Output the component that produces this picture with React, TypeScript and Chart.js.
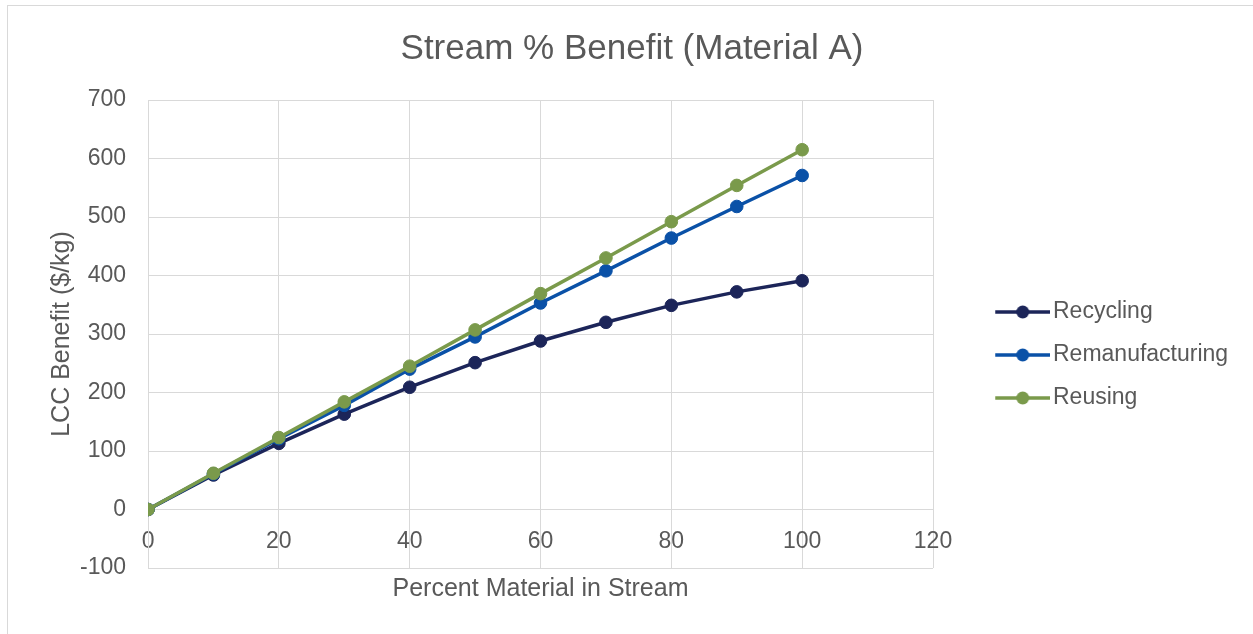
import React, { useEffect, useRef } from 'react';
import { Chart, registerables } from 'chart.js';

Chart.register(...registerables);

// ---- Data ----
const percentInStream = [0, 10, 20, 30, 40, 50, 60, 70, 80, 90, 100];
const recycling = [0, 59, 113, 163, 209, 251, 288, 320, 349, 372, 391];
const remanufacturing = [0, 61, 121, 178, 240, 295, 353, 408, 464, 518, 571];
const reusing = [0, 62, 123, 184, 245, 307, 369, 430, 492, 554, 615];
const seriesNames = ['Recycling', 'Remanufacturing', 'Reusing'];
const seriesColors = ['#1c2559', '#0a51a7', '#7a9a4b'];

const chartTitle = 'Stream % Benefit (Material A)';
const xTitle = 'Percent Material in Stream';
const yTitle = 'LCC Benefit ($/kg)';

const FONT = "'Liberation Sans', Arial, sans-serif";
const TEXT = '#595959';
const GRID = '#d9d9d9';

function legendIcon(color: string): HTMLCanvasElement {
  const c = document.createElement('canvas');
  c.width = 106;
  c.height = 16;
  const ctx = c.getContext('2d')!;
  ctx.strokeStyle = color;
  ctx.lineWidth = 3.5;
  ctx.beginPath();
  ctx.moveTo(51, 8);
  ctx.lineTo(106, 8);
  ctx.stroke();
  ctx.fillStyle = color;
  ctx.beginPath();
  ctx.arc(78.5, 8, 6.5, 0, Math.PI * 2);
  ctx.fill();
  return c;
}

export default function App() {
  const ref = useRef<HTMLCanvasElement | null>(null);

  useEffect(() => {
    if (!ref.current) return;
    Chart.defaults.font.family = FONT;
    Chart.defaults.color = TEXT;
    const icons = seriesColors.map(legendIcon);
    const all = [recycling, remanufacturing, reusing];
    const chart = new Chart(ref.current, {
      type: 'line',
      data: {
        datasets: all.map((vals, i) => ({
          label: seriesNames[i],
          data: percentInStream.map((x, j) => ({ x, y: vals[j] })),
          borderColor: seriesColors[i],
          backgroundColor: seriesColors[i],
          borderWidth: 3.5,
          pointRadius: 6.3,
          pointBorderWidth: 1,
          pointBackgroundColor: seriesColors[i],
          pointBorderColor: seriesColors[i],
          tension: 0,
          fill: false,
          order: 3 - i,
          xAxisID: 'x',
          yAxisID: 'y',
        })),
      },
      options: {
        responsive: false,
        animation: false,
        devicePixelRatio: 1,
        layout: { padding: { left: 22, right: 19, top: 0, bottom: 28 } },
        plugins: {
          title: {
            display: true,
            text: chartTitle,
            color: TEXT,
            font: { size: 35, weight: 'normal', family: FONT },
            padding: { top: 22, bottom: 30 },
          },
          legend: {
            position: 'right',
            title: {
              display: true,
              text: ' ',
              font: { size: 10, family: FONT },
              padding: { top: 86, bottom: 0 },
            },
            labels: {
              usePointStyle: true,
              pointStyleWidth: 88.5,
              padding: 20,
              color: TEXT,
              font: { size: 23, family: FONT },
              generateLabels: (ch: any) => {
                const items = Chart.defaults.plugins.legend.labels.generateLabels(ch);
                return items
                  .map((it: any) => ({ ...it, pointStyle: icons[it.datasetIndex], lineWidth: 0 }))
                  .sort((a: any, b: any) => a.datasetIndex - b.datasetIndex);
              },
            },
          },
          tooltip: { enabled: false },
        },
        scales: {
          x: {
            type: 'linear',
            position: { y: 0 } as any,
            min: 0,
            max: 120,
            ticks: { stepSize: 20, padding: 18, color: TEXT, font: { size: 23, family: FONT } },
            grid: { color: GRID, lineWidth: 1, drawTicks: false },
            border: { color: GRID, width: 1 },
          },
          x2: {
            type: 'linear',
            position: 'bottom',
            min: 0,
            max: 120,
            ticks: { display: false },
            grid: { display: false, drawTicks: false },
            border: { display: false },
            title: {
              display: true,
              text: xTitle,
              color: TEXT,
              font: { size: 25, family: FONT },
              padding: { top: 6, bottom: 2 },
            },
          },
          y: {
            type: 'linear',
            min: -100,
            max: 700,
            ticks: { stepSize: 100, padding: 22, color: TEXT, font: { size: 23, family: FONT } },
            grid: { color: GRID, lineWidth: 1, drawTicks: false },
            border: { color: GRID, width: 1 },
            title: {
              display: true,
              text: yTitle,
              color: TEXT,
              font: { size: 25, family: FONT },
              padding: { top: 17, bottom: -19 },
            },
          },
        },
      },
    });
    return () => chart.destroy();
  }, []);

  return (
    <div style={{ position: 'fixed', left: 0, top: 0, right: 0, bottom: 0, overflow: 'hidden', background: '#fff' }}>
      <div
        style={{
          position: 'absolute',
          left: 7,
          top: 5,
          width: 1250,
          height: 640,
          border: '1px solid #d9d9d9',
          background: '#fff',
        }}
      >
        <canvas ref={ref} width={1245} height={628} style={{ position: 'absolute', left: 0, top: 0 }} />
      </div>
    </div>
  );
}
